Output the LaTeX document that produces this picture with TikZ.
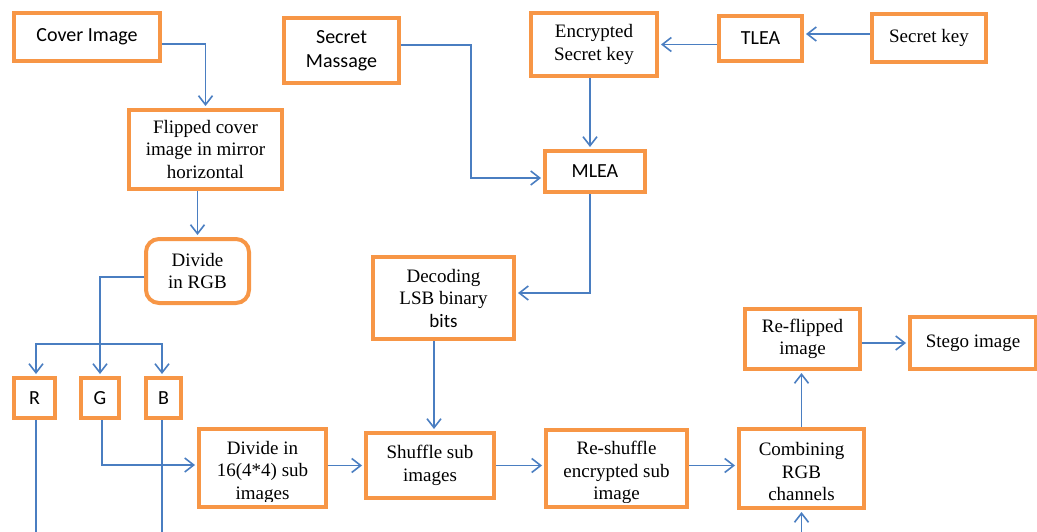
\documentclass[tikz,border=0pt]{standalone}
\usepackage{fontspec}
\setmainfont{Liberation Serif}
\newfontfamily\calib{Carlito}
\usetikzlibrary{arrows.meta,backgrounds}
\definecolor{boxorange}{RGB}{247,150,70}
\definecolor{linkblue}{RGB}{74,126,193}

\newcommand\serifsize{\fontsize{19}{22.5}\selectfont}
\tikzset{
  box/.style={draw=boxorange, line width=4pt, fill=white, inner sep=1pt,
    align=center, font=\serifsize},
  sansbox/.style={box, font=\calib\fontsize{20}{23.5}\selectfont},
  size/.style 2 args={minimum width=#1pt, minimum height=#2pt},
  % text that sits low in its box and is trimmed by the bottom edge
  lowtext/.style={align=center, inner sep=0pt, font=\serifsize},
  link/.style={draw=linkblue, line width=1.6pt},
  arr/.style={link, shorten >=2pt, -{Straight Barb[length=9pt,width=14pt]}},
}

\begin{document}
\begin{tikzpicture}[x=1pt,y=-1pt]
\useasboundingbox (0,0) rectangle (1037,532);

% embedding chain, top row
\node[sansbox, size={146}{48}] (cover) at (87,37) {Cover Image};
\node[sansbox, size={115}{65}] (massage) at (341.5,50.5) {Secret\\Massage};
\node[box, size={126}{63}] (enc) at (594,44.5) {Encrypted\\Secret key};
\node[sansbox, size={83}{45}] (tlea) at (760.5,38.5) {TLEA};
\node[box, size={114}{48}] (skey) at (929,38) {Secret key};

\node[box, size={153}{79}] (flip) at (205.5,149.5) {Flipped cover\\image in mirror\\horizontal};
\node[sansbox, size={100}{41}] (mlea) at (595,171.5) {MLEA};
\node[box, rounded corners=13pt, size={103}{64}] (rgb) at (197.5,271) {Divide\\in RGB};
\node[box, size={141}{82}] (decode) at (443.5,298) {Decoding\\LSB binary\\{\calib bits}};
\node[box, size={115}{60}] (reflip) at (802.5,339) {Re-flipped\\image};
\node[box, size={126}{52}] (stego) at (973,343) {Stego image};

% colour channels
\node[sansbox, size={41}{40}] (R) at (34.5,398) {R};
\node[sansbox, size={38}{40}] (G) at (100,398) {G};
\node[sansbox, size={35}{40}] (B) at (163.5,398) {B};

% bottom row
\node[box, size={127}{78}, path picture={
    \clip ([yshift=6pt]path picture bounding box.south west) rectangle (path picture bounding box.north east);
    \node[lowtext] at ([yshift=-4pt]path picture bounding box.center) {Divide in\\16(4*4) sub\\images};
  }] (div16) at (262.5,468) {};
\node[box, size={128}{65}] (shuffle) at (430,465.5) {Shuffle sub\\images};
\node[box, size={141}{77}, path picture={
    \clip ([yshift=5pt]path picture bounding box.south west) rectangle (path picture bounding box.north east);
    \node[lowtext] at ([yshift=-4pt]path picture bounding box.center) {Re-shuffle\\encrypted sub\\image};
  }] (reshuffle) at (616.5,468.5) {};
\node[box, size={125}{79}, path picture={
    \node[lowtext] at ([yshift=-3pt]path picture bounding box.center) {Combining\\RGB\\channels};
  }] (combine) at (801.5,468.5) {};

\coordinate (floor) at (0,532);
\coordinate (mbend) at (471,178);
\coordinate (split) at (100,344);

\begin{scope}[on background layer]
  \draw[arr] ([yshift=-7pt]cover.east) -| (flip.north);
  \draw[arr] (flip.south -| rgb.north) -- (rgb.north);
  \draw[arr] ([yshift=-6pt]rgb.west) -| (G.north);
  \draw[arr] (split) -| ([xshift=1.5pt]R.north);
  \draw[arr] (split) -| ([xshift=-1.5pt]B.north);
  \draw[link] ([xshift=1.5pt]R.south) -- ([xshift=1.5pt]R.south |- floor);
  \draw[link] ([xshift=-1.5pt]B.south) -- ([xshift=-1.5pt]B.south |- floor);
  \draw[arr] ([xshift=2pt]G.south) |- ([yshift=3pt]div16.west);
  \draw[arr] (div16.east |- shuffle.west) -- (shuffle.west);
  \draw[arr] (shuffle.east) -- (shuffle.east -| reshuffle.west);
  \draw[arr] (reshuffle.east |- shuffle.east) -- (combine.west |- shuffle.east);
  \draw[arr] (combine.north) -- (combine.north |- reflip.south);
  \draw[arr] (combine.south |- floor) -- (combine.south);
  \draw[arr] (reflip.east |- stego.west) -- (stego.west);
  \draw[arr] ([yshift=4pt]skey.west) -- ([yshift=4pt]skey.west -| tlea.east);
  \draw[arr] (tlea.west |- enc.east) -- (enc.east);
  \draw[arr] ([xshift=-4pt]enc.south) -- ([xshift=-4pt]enc.south |- mlea.north);
  \draw[arr] ([yshift=5.5pt]massage.east) -| (mbend) -- (mbend -| mlea.west);
  \draw[arr] ([xshift=-5pt]mlea.south) |- ([yshift=5pt]decode.east);
  \draw[arr] ([xshift=-9.5pt]decode.south) -- ([xshift=-9.5pt]decode.south |- shuffle.north);
\end{scope}
\end{tikzpicture}
\end{document}
